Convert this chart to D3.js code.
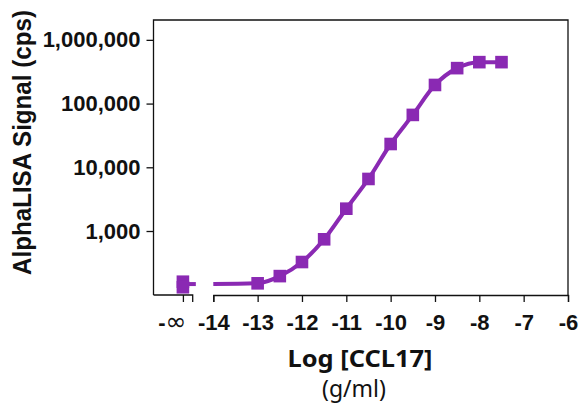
<!DOCTYPE html>
<html>
<head>
<meta charset="utf-8">
<script src="https://cdn.jsdelivr.net/npm/d3@7"></script>
<style>
  body { margin: 0; background: #fff; }
  svg text { fill: #111; }
</style>
</head>
<body>
<div id="chart"></div>
<script>
// log [CCL17] (g/ml) for the dilution series
const logConc = [-13, -12.5, -12, -11.5, -11, -10.5, -10, -9.5, -9, -8.5, -8, -7.5];
// AlphaLISA signal (cps)
const signal = [151, 196, 326, 741, 2240, 6560, 23200, 66400, 196000, 360000, 447000, 447000];
// blank wells plotted at -infinity
const blankSignal = [160, 131];
// start of the fitted curve (bottom plateau)
const fitStart = [{x: -14, y: 147}];
const fitBottom = 147;

const xTicks = [-14, -13, -12, -11, -10, -9, -8, -7, -6];
const yTicks = [1000, 10000, 100000, 1000000];

const margin = {top: 20, right: 11, bottom: 109, left: 153.5};
const width = 579, height = 404;
const color = "#8a29b3";
const markerSize = 12.6;

const svg = d3.select("#chart").append("svg")
    .attr("width", width)
    .attr("height", height);

// main x segment and the small broken-off segment holding -inf
const x = d3.scaleLinear()
    .domain([-14, -6])
    .range([213.3, width - margin.right]);
const xInf = d3.scaleLinear()
    .domain([-0.75, 0.25])
    .range([margin.left, 192.7]);

const y = d3.scaleLog()
    .domain([99, 2.05e6])
    .range([height - margin.bottom, margin.top]);

const axisY = height - margin.bottom;

// frame: top + right + left
svg.append("path")
    .attr("d", `M${margin.left},${axisY}V${margin.top}H${width - margin.right}V${axisY}`)
    .attr("fill", "none")
    .attr("stroke", "#111")
    .attr("stroke-width", 1.3);

// y axis ticks
const yAxis = svg.append("g")
    .attr("transform", "translate(" + margin.left + ",0)")
    .call(d3.axisLeft(y).tickValues(yTicks).tickSize(7).tickPadding(6).tickFormat(d3.format(",")));
yAxis.select(".domain").remove();
yAxis.selectAll("line").attr("stroke", "#111").attr("stroke-width", 1.3);
yAxis.selectAll("text")
    .attr("font-family", "'Liberation Sans', Arial, sans-serif")
    .attr("font-weight", "bold")
    .attr("font-size", 22)
    .attr("fill", "#111");

// x axis, main part
const xAxis = svg.append("g")
    .attr("transform", "translate(0," + axisY + ")")
    .call(d3.axisBottom(x).tickValues(xTicks).tickSize(7).tickSizeOuter(7).tickPadding(12).tickFormat(d => d3.format("d")(d).replace("−", "-")));
xAxis.select(".domain").attr("stroke", "#111").attr("stroke-width", 1.3);
xAxis.selectAll("line").attr("stroke", "#111").attr("stroke-width", 1.3);
xAxis.selectAll("text")
    .attr("font-family", "'Liberation Sans', Arial, sans-serif")
    .attr("font-weight", "bold")
    .attr("font-size", 22)
    .attr("fill", "#111");

// x axis, -inf part
const xAxisInf = svg.append("g")
    .attr("transform", "translate(0," + axisY + ")")
    .call(d3.axisBottom(xInf).tickValues([0]).tickSize(7).tickSizeOuter(7).tickPadding(12).tickFormat(() => "-"));
xAxisInf.select(".domain").attr("stroke", "#111").attr("stroke-width", 1.3)
    .attr("d", `M${xInf(-0.75)},0H${xInf(0.25)}V7`);
xAxisInf.selectAll("line").attr("stroke", "#111").attr("stroke-width", 1.3);
xAxisInf.selectAll("text")
    .attr("font-family", "'Liberation Sans', Arial, sans-serif")
    .attr("font-weight", "bold")
    .attr("font-size", 22)
    .attr("text-anchor", "end")
    .attr("dx", 3)
    .attr("fill", "#111")
    .append("tspan")
    .attr("font-family", "'DejaVu Sans', sans-serif")
    .attr("font-weight", "normal")
    .attr("font-size", 25)
    .text("∞");

// fitted curve
const pts = fitStart.concat(logConc.map((c, i) => ({x: c, y: signal[i]})));
svg.append("path")
    .datum(pts)
    .attr("fill", "none")
    .attr("stroke", color)
    .attr("stroke-width", 4)
    .attr("d", d3.line().x(d => x(d.x)).y(d => y(d.y)).curve(d3.curveMonotoneX));

// short stub of the curve at -inf
svg.append("line")
    .attr("x1", xInf(0)).attr("x2", xInf(0.33))
    .attr("y1", y(fitBottom)).attr("y2", y(fitBottom))
    .attr("stroke", color)
    .attr("stroke-width", 4);

// markers
svg.selectAll(".pt")
    .data(logConc.map((c, i) => ({x: x(c), y: y(signal[i])}))
        .concat(blankSignal.map(v => ({x: xInf(0), y: y(v)}))))
    .join("rect")
    .attr("class", "pt")
    .attr("x", d => d.x - markerSize / 2)
    .attr("y", d => d.y - markerSize / 2)
    .attr("width", markerSize)
    .attr("height", markerSize)
    .attr("fill", color);

// axis titles
svg.append("text")
    .attr("transform", "translate(31,142.5) rotate(-90)")
    .attr("text-anchor", "middle")
    .attr("font-family", "'Liberation Sans', Arial, sans-serif")
    .attr("font-weight", "bold")
    .attr("font-size", 25)
    .attr("textLength", 265)
    .attr("lengthAdjust", "spacingAndGlyphs")
    .text("AlphaLISA Signal (cps)");

svg.append("text")
    .attr("x", 360)
    .attr("y", 367)
    .attr("text-anchor", "middle")
    .attr("font-family", "'Noto Sans', sans-serif")
    .attr("font-weight", "bold")
    .attr("font-size", 24)
    .attr("textLength", 145)
    .attr("lengthAdjust", "spacingAndGlyphs")
    .text("Log [CCL17]");

svg.append("text")
    .attr("x", 354)
    .attr("y", 397)
    .attr("text-anchor", "middle")
    .attr("font-family", "'Noto Sans', sans-serif")
    .attr("font-size", 23)
    .text("(g/ml)");
</script>
</body>
</html>
